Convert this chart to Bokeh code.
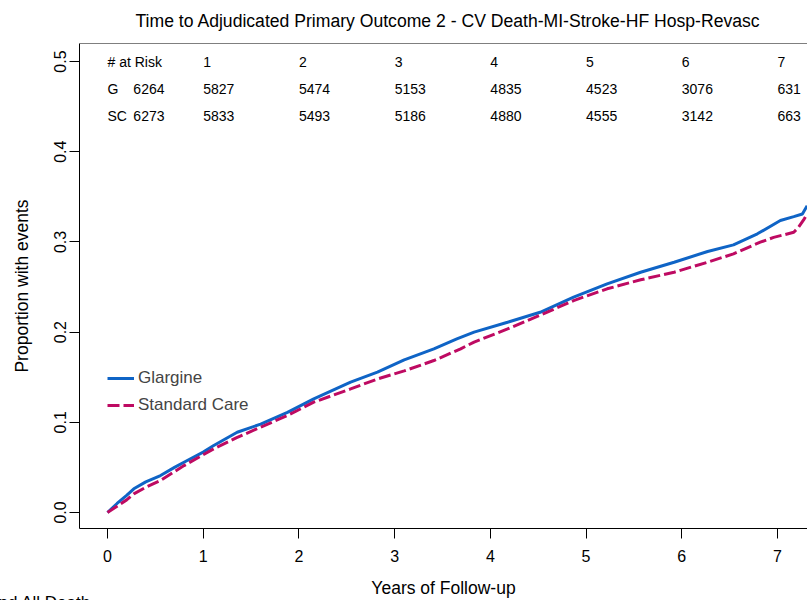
from bokeh.plotting import figure
from bokeh.models import (Range1d, FixedTicker, NumeralTickFormatter, Span, Title,
                          Legend, LegendItem)
from bokeh.core.properties import value
from bokeh.embed import file_html
from bokeh.resources import INLINE

# ---- data ----
years_g = [0, 0.1, 0.2, 0.275, 0.4, 0.554, 0.7, 0.833, 1.0, 1.11, 1.355, 1.6, 1.88, 2.155,
           2.54, 2.82, 3.10, 3.41, 3.65, 3.83, 4.18, 4.52, 4.87, 5.22, 5.57, 5.92, 6.27,
           6.54, 6.79, 7.03, 7.17, 7.26, 7.31]
glargine = [0, 0.010, 0.019, 0.0263, 0.034, 0.041, 0.050, 0.0576, 0.067, 0.0743, 0.089,
            0.098, 0.111, 0.126, 0.1445, 0.1556, 0.1693, 0.1815, 0.1925, 0.200, 0.211,
            0.222, 0.2387, 0.2535, 0.2664, 0.2775, 0.2894, 0.2967, 0.309, 0.3237, 0.328,
            0.331, 0.340]
years_sc = [0, 0.1, 0.2, 0.275, 0.4, 0.554, 0.8, 1.11, 1.35, 1.60, 1.88, 2.155, 2.54, 2.82,
            3.10, 3.41, 3.69, 3.83, 4.18, 4.52, 4.87, 5.22, 5.57, 5.92, 6.27, 6.54, 6.82,
            6.96, 7.17, 7.22, 7.28, 7.31]
standard_care = [0, 0.007, 0.014, 0.0207, 0.028, 0.0355, 0.052, 0.0706, 0.083, 0.0946,
                 0.1075, 0.1223, 0.137, 0.148, 0.157, 0.1685, 0.1815, 0.189, 0.2035, 0.2187,
                 0.235, 0.248, 0.258, 0.2664, 0.2775, 0.2868, 0.2997, 0.305, 0.3107, 0.3163,
                 0.3256, 0.331]

risk_times = [1, 2, 3, 4, 5, 6, 7]
risk_g = [5827, 5474, 5153, 4835, 4523, 3076, 631]
risk_sc = [5833, 5493, 5186, 4880, 4555, 3142, 663]
risk_g0 = 6264
risk_sc0 = 6273

x_ticks = [0, 1, 2, 3, 4, 5, 6, 7]
y_ticks = [0.0, 0.1, 0.2, 0.3, 0.4, 0.5]

FONT = "Liberation Sans"
BLUE = "#0F64C6"
MAG = "#BE0A62"

p = figure(width=807, height=600, output_backend="svg", toolbar_location=None,
           x_range=Range1d(-0.2925, 7.3134), y_range=Range1d(-0.01774, 0.5200),
           min_border_left=79, min_border_right=0, min_border_top=43, min_border_bottom=72)
p.outline_line_color = None
p.xgrid.visible = False
p.ygrid.visible = False
p.background_fill_color = "white"
p.border_fill_color = "white"

# title
p.title.text = "Time to Adjudicated Primary Outcome 2 - CV Death-MI-Stroke-HF Hosp-Revasc"
p.title.text_font = FONT
p.title.text_font_size = "17.6px"
p.title.text_font_style = "normal"
p.title.text_color = "black"
p.title.align = "left"
p.title.offset = 56
p.title.vertical_align = "top"
p.title.standoff = 21

# axes
for ax in (p.xaxis[0], p.yaxis[0]):
    ax.axis_line_color = "black"
    ax.axis_line_width = 1
    ax.major_tick_line_color = "black"
    ax.major_tick_in = 0
    ax.major_tick_out = 10
    ax.minor_tick_line_color = None
    ax.major_label_text_font = FONT
    ax.major_label_text_font_size = "16px"
    ax.major_label_text_color = "black"
    ax.axis_label_text_font = FONT
    ax.axis_label_text_font_size = "17.5px"
    ax.axis_label_text_font_style = "normal"
    ax.axis_label_text_color = "black"

p.xaxis.ticker = FixedTicker(ticks=x_ticks)
p.xaxis.major_label_standoff = 11
p.xaxis.axis_label = "Years of Follow-up"
p.xaxis.axis_label_standoff = 13
p.yaxis.ticker = FixedTicker(ticks=y_ticks)
p.yaxis.formatter = NumeralTickFormatter(format="0.0")
p.yaxis.major_label_orientation = "vertical"
p.yaxis.major_label_standoff = 3
p.yaxis.axis_label = "Proportion with events"
p.yaxis.axis_label_standoff = 20

# top border
p.add_layout(Span(location=0.5200, dimension="width", line_color="black", line_width=1))

# curves
r_g = p.line(years_g, glargine, line_color=BLUE, line_width=3)
r_sc = p.line(years_sc, standard_care, line_color=MAG, line_width=3, line_dash="12 4")

legend = Legend(items=[LegendItem(label="Glargine", renderers=[r_g]),
                       LegendItem(label="Standard Care", renderers=[r_sc])],
                location=(28, 113), border_line_color=None, background_fill_alpha=0,
                glyph_width=27, glyph_height=20, label_standoff=4, spacing=7,
                padding=0, margin=0, label_text_font=FONT, label_text_font_size="17px",
                label_height=20)
p.add_layout(legend, "center")

# risk table
ts = dict(text_font=value(FONT), text_font_size="14px", text_color="black",
          text_baseline="middle", text_align="left")
p.text(x=[0], y=[0.5], text=["# at Risk"], **ts)
p.text(x=risk_times, y=[0.5] * len(risk_times), text=[str(t) for t in risk_times], **ts)
p.text(x=[0, 0.27] + risk_times, y=[0.47] * (2 + len(risk_times)),
       text=["G", str(risk_g0)] + [str(v) for v in risk_g], **ts)
p.text(x=[0, 0.27] + risk_times, y=[0.44] * (2 + len(risk_times)),
       text=["SC", str(risk_sc0)] + [str(v) for v in risk_sc], **ts)

# cut-off fragment of a following caption at the bottom-left corner
frag = Title(text="nd All Death", text_font=FONT, text_font_size="17px",
             text_font_style="normal", text_color="black", align="left",
             offset=-81, vertical_align="bottom", standoff=-22)
p.add_layout(frag, "below")

open("out.html", "w").write(file_html(p, INLINE))
